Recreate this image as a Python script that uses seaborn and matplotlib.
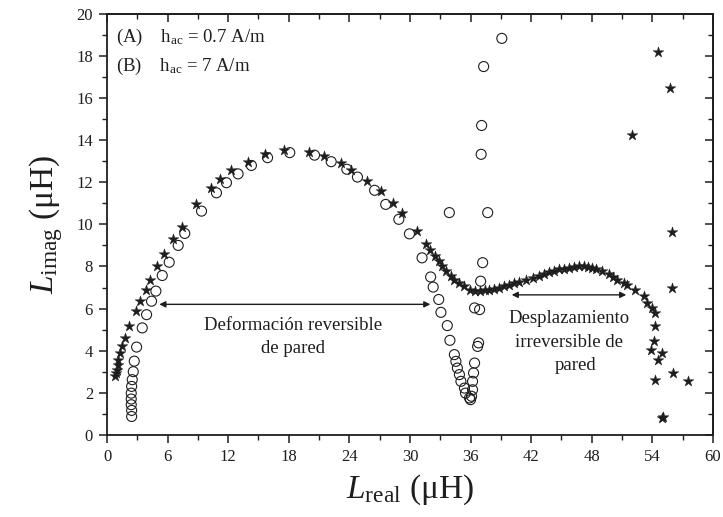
import matplotlib
matplotlib.use("Agg")
import matplotlib.pyplot as plt
from matplotlib.ticker import MultipleLocator
import seaborn as sns
import pandas as pd

# Series A: h_ac = 0.7 A/m (open circles)
a_real = [2.44, 2.44, 2.40, 2.40, 2.40, 2.44, 2.50, 2.60, 2.70, 2.93, 3.49, 3.92,
          4.41, 4.84, 5.47, 6.16, 7.05, 7.70, 9.36, 10.84, 11.83, 12.98, 14.30,
          15.90, 18.10, 20.55, 22.20, 23.75, 24.80, 26.50, 27.60, 28.90, 29.95,
          31.20, 32.05, 32.30, 32.85, 33.07, 33.70, 33.96, 34.40, 34.55, 34.70,
          34.90, 35.05, 35.40, 35.50, 35.90, 36.00, 36.10, 36.20, 36.20, 36.30,
          36.40, 36.70, 36.80, 36.40, 36.90, 37.00, 37.20, 37.70, 33.90, 37.05,
          37.10, 37.30, 39.10]
a_imag = [0.87, 1.16, 1.43, 1.70, 1.98, 2.30, 2.62, 3.00, 3.50, 4.17, 5.08, 5.71,
          6.35, 6.83, 7.57, 8.20, 9.00, 9.57, 10.63, 11.50, 11.98, 12.40, 12.80,
          13.17, 13.41, 13.29, 12.98, 12.62, 12.25, 11.62, 10.95, 10.24, 9.55,
          8.41, 7.50, 7.02, 6.43, 5.82, 5.19, 4.49, 3.81, 3.49, 3.17,
          2.86, 2.54, 2.22, 1.98, 1.75, 1.67, 1.83, 2.14, 2.54, 2.94,
          3.41, 4.20, 4.37, 6.03, 5.95, 7.30, 8.18, 10.56, 10.56, 13.33,
          14.70, 17.50, 18.84]

# Series B: h_ac = 7 A/m (stars)
b_real = [0.79, 0.85, 0.95, 1.05, 1.10, 1.28, 1.45, 1.78, 2.17, 2.84, 3.26, 3.82,
          4.25, 4.91, 5.67, 6.55, 7.38, 8.86, 10.34, 11.17, 12.30, 13.96, 15.60,
          17.50, 20.00, 21.50, 23.20, 24.20, 25.70, 27.10, 28.30, 29.20, 30.70,
          31.60, 32.00, 32.45, 32.85, 33.20, 33.60, 34.10, 34.40, 34.90, 35.40,
          35.90, 36.40, 36.90, 37.40, 37.80, 38.30, 38.80, 39.30, 39.80, 40.30,
          40.80, 41.50, 42.20, 42.80, 43.30, 43.80, 44.30, 44.80, 45.30, 45.75,
          46.20, 46.70, 47.20, 47.60, 48.00, 48.40, 49.00, 49.70, 50.10, 50.50,
          51.20, 51.50, 52.30, 53.20, 53.50, 54.00, 54.30, 54.30, 54.20, 53.90,
          55.00, 54.60, 54.30, 56.10, 57.50, 55.00, 55.10, 56.00, 56.00, 52.00,
          55.80, 54.60]
b_imag = [2.78, 2.94, 3.10, 3.33, 3.57, 3.89, 4.20, 4.60, 5.16, 5.87, 6.35, 6.90,
          7.38, 8.02, 8.57, 9.32, 9.89, 10.95, 11.75, 12.14, 12.59, 12.97, 13.33,
          13.55, 13.45, 13.25, 12.92, 12.60, 12.08, 11.60, 11.00, 10.52, 9.70,
          9.05, 8.77, 8.50, 8.25, 8.02, 7.78, 7.56, 7.38, 7.22, 7.06,
          6.90, 6.83, 6.83, 6.86, 6.90, 6.94, 6.98, 7.06, 7.12, 7.20,
          7.28, 7.38, 7.46, 7.54, 7.64, 7.73, 7.80, 7.86, 7.90, 7.94,
          7.98, 8.02, 8.00, 7.97, 7.93, 7.89, 7.78, 7.62, 7.50, 7.38,
          7.22, 7.14, 6.90, 6.59, 6.27, 6.03, 5.79, 5.16, 4.44, 4.05,
          3.89, 3.57, 2.62, 2.94, 2.57, 0.79, 0.85, 6.98, 9.63, 14.27,
          16.46, 18.20]

x_ticks = [0, 6, 12, 18, 24, 30, 36, 42, 48, 54, 60]
y_ticks = [0, 2, 4, 6, 8, 10, 12, 14, 16, 18, 20]

sns.set_theme(style="ticks")
plt.rcParams['font.family'] = ['Liberation Serif', 'DejaVu Serif']
plt.rcParams['mathtext.fontset'] = 'custom'
plt.rcParams['mathtext.rm'] = 'Liberation Serif'
plt.rcParams['mathtext.it'] = 'Liberation Serif:italic'

ink = '#1e1e1e'
fig = plt.figure(figsize=(7.23, 5.17), dpi=100)
ax = fig.add_axes([0.148, 0.159, 0.838, 0.814])

dfa = pd.DataFrame({'x': a_real, 'y': a_imag})
dfb = pd.DataFrame({'x': b_real, 'y': b_imag})
sns.scatterplot(data=dfa, x='x', y='y', ax=ax, marker='o', s=52,
                facecolors='none', edgecolor=ink, linewidth=0.8, zorder=3)
sns.scatterplot(data=dfb, x='x', y='y', ax=ax, marker='*', s=66,
                color=ink, edgecolor=ink, linewidth=0.3, zorder=4)

ax.set_xlim(0, 60)
ax.set_ylim(0, 20)
ax.set_xticks(x_ticks)
ax.set_yticks(y_ticks)
ax.set_xticklabels([str(v) for v in x_ticks])
ax.set_yticklabels([str(v) for v in y_ticks])
ax.xaxis.set_minor_locator(MultipleLocator(3))
ax.yaxis.set_minor_locator(MultipleLocator(1))
ax.tick_params(axis='both', which='major', direction='out', length=6, width=1.1,
               labelsize=12, colors=ink, pad=4)
ax.tick_params(axis='both', which='minor', direction='out', length=3.5, width=1.0, colors=ink)
for s in ax.spines.values():
    s.set_linewidth(1.3)
    s.set_color(ink)

# top and right ticks point inward
ax2 = ax.secondary_xaxis('top')
ax2.set_xticks(x_ticks)
ax2.xaxis.set_minor_locator(MultipleLocator(3))
ax2.tick_params(which='major', direction='in', length=6, width=1.1, labeltop=False, colors=ink)
ax2.tick_params(which='minor', direction='in', length=3.5, width=1.0, colors=ink)
ax2.set_xticklabels([])
ay2 = ax.secondary_yaxis('right')
ay2.set_yticks(y_ticks)
ay2.yaxis.set_minor_locator(MultipleLocator(1))
ay2.tick_params(which='major', direction='in', length=6, width=1.1, colors=ink)
ay2.tick_params(which='minor', direction='in', length=3.5, width=1.0, colors=ink)
ay2.set_yticklabels([])

ax.set_xlabel(r'$\mathit{L}_{\mathrm{real}}$ (μH)', fontsize=24, color=ink, labelpad=6)
ax.set_ylabel(r'$\mathit{L}_{\mathrm{imag}}$ (μH)', fontsize=24, color=ink, labelpad=8)

ax.text(0.9, 18.9, r'(A)    h$_{\mathrm{ac}}$ = 0.7 A/m', fontsize=13.5, color=ink, va='center')
ax.text(0.9, 17.5, r'(B)    h$_{\mathrm{ac}}$ = 7 A/m', fontsize=13.5, color=ink, va='center')

ax.annotate('', xy=(4.9, 6.2), xytext=(32.3, 6.2),
            arrowprops=dict(arrowstyle='<|-|>', color=ink, lw=1.0, mutation_scale=9))
ax.text(18.4, 5.2, 'Deformación reversible', fontsize=13.5, color=ink, ha='center', va='center')
ax.text(18.4, 4.1, 'de pared', fontsize=13.5, color=ink, ha='center', va='center')

ax.annotate('', xy=(39.8, 6.65), xytext=(51.7, 6.65),
            arrowprops=dict(arrowstyle='<|-|>', color=ink, lw=1.0, mutation_scale=9))
ax.text(45.8, 5.55, 'Desplazamiento', fontsize=13.5, color=ink, ha='center', va='center')
ax.text(45.8, 4.4, 'irreversible de', fontsize=13.5, color=ink, ha='center', va='center')
ax.text(46.4, 3.3, 'pared', fontsize=13.5, color=ink, ha='center', va='center')

fig.savefig('out.png', dpi=100)
